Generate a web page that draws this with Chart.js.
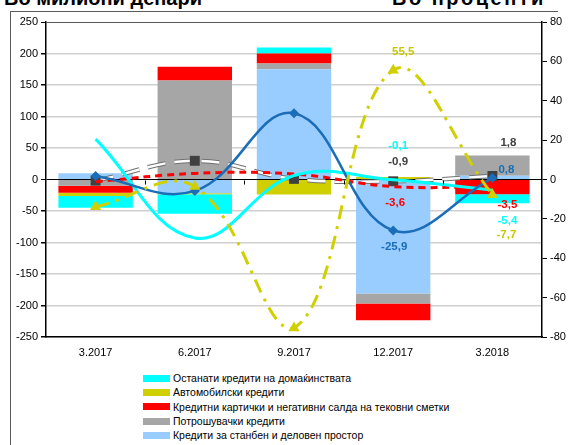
<!DOCTYPE html>
<html>
<head>
<meta charset="utf-8" />
<title>Кредити на домаќинствата</title>
<script src="https://cdn.jsdelivr.net/npm/chart.js@4.4.0/dist/chart.umd.min.js"></script>
<style>
    * { margin: 0; padding: 0; box-sizing: border-box; }
    body {
        width: 572px; height: 445px; background: #fff;
        position: relative; overflow: hidden;
        font-family: "Liberation Sans", Arial, sans-serif;
    }
    #frame {
        position: absolute; left: 10px; top: 11px; width: 548px; height: 450px;
        border-top: 1px solid #595959; border-left: 1px solid #595959;
    }
    .unit { position: absolute; top: -12px; font-size: 20px; line-height: 21px; font-weight: bold; color: #000; white-space: nowrap; }
    #chart-box { position: absolute; left: 0; top: 0; width: 572px; height: 365px; }
    #legend { position: absolute; left: 143px; top: 371px; font-size: 10.5px; color: #000; }
    .leg-row { display: flex; align-items: center; height: 14.3px; }
    .leg-box { width: 27px; height: 7px; margin-right: 3px; }
</style>
</head>
<body>
    <div id="frame"></div>
    <div class="unit" style="left: 4px;">Во милиони денари</div>
    <div class="unit" style="left: 392px; letter-spacing: 2.5px;">Во проценти</div>
    <div id="chart-box"><canvas id="myChart" width="572" height="365"></canvas></div>
    <div id="legend"></div>

<script>
    // quarters
    const labels = ['3.2017', '6.2017', '9.2017', '12.2017', '3.2018'];

    // quarterly change, millions of denars (left axis)
    const housing  = [10, -22, 175, -181, 6];   // Кредити за станбен и деловен простор
    const consumer = [-10, 157, 9, -16, 32];    // Потрошувачки кредити
    const cards    = [-11, 22, 16, -26.5, -23.5]; // Кредитни картички ...
    const car      = [-5, -1.5, -24, 4, 0];     // Автомобилски кредити
    const other    = [-19, -31, 9.5, 0, -14];   // Останати кредити

    // quarterly growth, percent (right axis)
    const housingGrowth  = [1.8, -5.8, 33.6, -25.9, 0.8];
    const consumerGrowth = [-0.6, 9.5, 0.3, -0.9, 1.8];
    const cardsGrowth    = [-1.1, 3.1, 2.8, -3.6, -3.5];
    const carGrowth      = [-13.8, -3.6, -75.4, 55.5, -7.7];
    const otherGrowth    = [20.5, -29.7, 2.0, -0.1, -5.4];

    const leftTicks = [-250, -200, -150, -100, -50, 0, 50, 100, 150, 200, 250];
    const rightTicks = [-80, -60, -40, -20, 0, 20, 40, 60, 80];

    const legendNames = [
        'Останати кредити на домаќинствата',
        'Автомобилски кредити',
        'Кредитни картички и негативни салда на тековни сметки',
        'Потрошувачки кредити',
        'Кредити за станбен и деловен простор'
    ];

    const C_CYAN = '#00ffff', C_YEL = '#d0d000', C_RED = '#ff0000',
          C_GRAY = '#a6a6a6', C_LBLUE = '#99ccff', C_BLUE = '#1b6db8';
    const legendColors = [C_CYAN, C_YEL, C_RED, C_GRAY, C_LBLUE];

    // html legend
    const leg = document.getElementById('legend');
    legendNames.forEach((name, i) => {
        const row = document.createElement('div');
        row.className = 'leg-row';
        row.innerHTML = '<div class="leg-box" style="background:' + legendColors[i] + '"></div><span>' + name + '</span>';
        leg.appendChild(row);
    });

    const barBase = { type: 'bar', yAxisID: 'y', order: 10, barPercentage: 0.75, categoryPercentage: 1.0, borderWidth: 0 };
    const lineBase = { type: 'line', yAxisID: 'y1', tension: 0.4, fill: false, pointRadius: 0 };

    const fmt = v => v.toFixed(1).replace('.', ',');

    // value labels on the last two quarters
    const valueLabels = {
        id: 'valueLabels',
        afterDatasetsDraw(chart) {
            const ctx = chart.ctx;
            ctx.save();
            ctx.font = 'bold 11.5px "Liberation Sans", Arial, sans-serif';
            ctx.textAlign = 'center';
            ctx.textBaseline = 'middle';
            chart.data.datasets.forEach((ds, di) => {
                if (!ds.labelOffsets) return;
                const meta = chart.getDatasetMeta(di);
                ds.labelOffsets.forEach(o => {
                    const pt = meta.data[o.i];
                    ctx.fillStyle = ds.labelColor;
                    ctx.fillText(fmt(ds.data[o.i]), pt.x + o.dx, pt.y + o.dy);
                });
            });
            ctx.restore();
        }
    };

    // small tick marks on the zero line between categories
    const zeroTicks = {
        id: 'zeroTicks',
        afterDraw(chart) {
            const x = chart.scales.x, y = chart.scales.y, ctx = chart.ctx;
            const y0 = Math.round(y.getPixelForValue(0)) + 0.5;
            ctx.save();
            ctx.strokeStyle = '#000';
            ctx.lineWidth = 1;
            ctx.beginPath();
            for (let i = 0; i < labels.length - 1; i++) {
                const px = Math.round((x.getPixelForTick(i) + x.getPixelForTick(i + 1)) / 2) + 0.5;
                ctx.moveTo(px, y0);
                ctx.lineTo(px, y0 + 4);
            }
            ctx.stroke();
            ctx.restore();
        }
    };

    const data = {
        labels: labels,
        datasets: [
            { ...barBase, label: legendNames[4], data: housing, backgroundColor: C_LBLUE },
            { ...barBase, label: legendNames[3], data: consumer, backgroundColor: C_GRAY },
            { ...barBase, label: legendNames[2], data: cards, backgroundColor: C_RED },
            { ...barBase, label: legendNames[1], data: car, backgroundColor: C_YEL },
            { ...barBase, label: legendNames[0], data: other, backgroundColor: C_CYAN },

            // consumer growth: outlined dashed line (gray under, white over)
            { ...lineBase, label: 'g-consumer-outline', data: consumerGrowth, borderColor: '#707070',
              borderWidth: 4.5, borderDash: [18, 9], order: 6 },
            { ...lineBase, label: 'g-consumer', data: consumerGrowth, borderColor: '#ffffff',
              borderWidth: 2.5, borderDash: [18, 9], order: 5,
              pointRadius: 7, pointStyle: 'rect', pointBackgroundColor: '#404040', pointBorderWidth: 0,
              labelColor: '#404040',
              labelOffsets: [{ i: 3, dx: 5, dy: -19 }, { i: 4, dx: 16, dy: -33 }] },
            { ...lineBase, label: 'g-cards', data: cardsGrowth, borderColor: C_RED,
              borderWidth: 3, borderDash: [7, 5], order: 4,
              labelColor: C_RED,
              labelOffsets: [{ i: 3, dx: 2, dy: 16 }, { i: 4, dx: 15, dy: 18 }] },
            { ...lineBase, label: 'g-other', data: otherGrowth, borderColor: C_CYAN,
              borderWidth: 3, order: 3,
              labelColor: C_CYAN,
              labelOffsets: [{ i: 3, dx: 5, dy: -34 }, { i: 4, dx: 15, dy: 31 }] },
            { ...lineBase, label: 'g-housing', data: housingGrowth, borderColor: C_BLUE,
              borderWidth: 2.5, order: 2,
              pointRadius: 5, pointStyle: 'rectRot', pointBackgroundColor: C_BLUE, pointBorderWidth: 0,
              labelColor: C_BLUE,
              labelOffsets: [{ i: 3, dx: 1, dy: 16 }, { i: 4, dx: 14, dy: -8 }] },
            { ...lineBase, label: 'g-car', data: carGrowth, borderColor: C_YEL,
              borderWidth: 3, borderDash: [14, 7, 3, 7], order: 1,
              pointRadius: 6.5, pointStyle: 'triangle', pointBackgroundColor: C_YEL, pointBorderWidth: 0,
              labelColor: '#c8c800',
              labelOffsets: [{ i: 3, dx: 10, dy: -18 }, { i: 4, dx: 14, dy: 40 }] }
        ]
    };

    const tickFont = { family: '"Liberation Sans", Arial, sans-serif', size: 11 };

    const chartConfig = {
        type: 'bar',
        data,
        options: {
            responsive: false,
            animation: false,
            layout: { padding: { left: 10, right: 0, top: 22, bottom: 0 } },
            plugins: {
                legend: { display: false },
                tooltip: { enabled: false }
            },
            scales: {
                x: {
                    stacked: true,
                    offset: true,
                    grid: { display: true, drawOnChartArea: false, drawTicks: false },
                    border: { display: true, color: '#000', width: 1.5 },
                    ticks: { font: tickFont, color: '#000', padding: 9 },
                    afterFit: s => { s.height = 28; }
                },
                y: {
                    stacked: true,
                    position: 'left',
                    min: -250, max: 250,
                    afterBuildTicks: s => { s.ticks = leftTicks.map(v => ({ value: v })); },
                    ticks: { font: tickFont, color: '#000', padding: 3 },
                    grid: {
                        color: c => c.tick.value === 0 ? '#000' : (c.tick.value === 250 ? '#595959' : '#d0d0d0'),
                        lineWidth: c => c.tick.value === 0 || c.tick.value === 250 ? 1 : 1.5,
                        tickColor: '#000',
                        tickLength: 5
                    },
                    border: { color: '#000', width: 1.5 },
                    afterFit: s => { s.width = 36; }
                },
                y1: {
                    position: 'right',
                    min: -80, max: 80,
                    afterBuildTicks: s => { s.ticks = rightTicks.map(v => ({ value: v })); },
                    ticks: { font: tickFont, color: '#000', padding: 3 },
                    grid: { drawOnChartArea: false, tickColor: '#000', tickLength: 5 },
                    border: { color: '#000', width: 1.5 },
                    afterFit: s => { s.width = 30; }
                }
            }
        },
        plugins: [valueLabels, zeroTicks]
    };

    const myChart = new Chart(document.getElementById('myChart'), chartConfig);
</script>
</body>
</html>
